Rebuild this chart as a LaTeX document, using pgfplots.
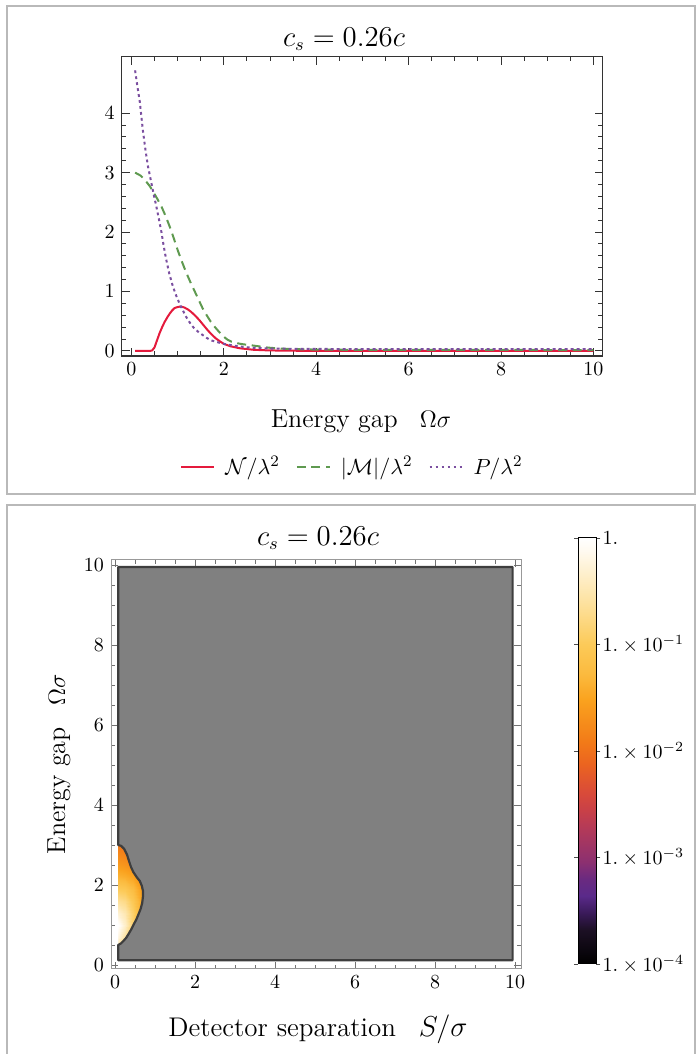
\documentclass[border=0pt]{standalone}
\usepackage{pgfplots}
\usepackage{pgfplotstable}
\pgfplotsset{compat=1.18}
\definecolor{cN}{RGB}{228,26,60}
\definecolor{cM}{RGB}{95,154,80}
\definecolor{cP}{RGB}{123,79,160}
\definecolor{regiongray}{RGB}{128,128,128}
\definecolor{edgegray}{RGB}{62,62,62}
\definecolor{framegray}{RGB}{185,185,185}

\pgfplotstableread{
S W c
0.08 0.4 -0.5
0.25 0.4 -1.2
0.45 0.4 -1.7
0.65 0.4 -2.0
0.80 0.4 -2.2
0.08 0.7 -0.2
0.25 0.7 -0.6
0.45 0.7 -1.2
0.65 0.7 -1.7
0.80 0.7 -2.0
0.08 1.0 0
0.25 1.0 -0.35
0.45 1.0 -0.9
0.65 1.0 -1.5
0.80 1.0 -1.9
0.08 1.3 -0.3
0.25 1.3 -0.5
0.45 1.3 -0.9
0.65 1.3 -1.4
0.80 1.3 -1.8
0.08 1.6 -0.65
0.25 1.6 -0.75
0.45 1.6 -1.05
0.65 1.6 -1.45
0.80 1.6 -1.75
0.08 1.9 -1.0
0.25 1.9 -1.05
0.45 1.9 -1.25
0.65 1.9 -1.55
0.80 1.9 -1.8
0.08 2.2 -1.35
0.25 2.2 -1.4
0.45 2.2 -1.5
0.65 2.2 -1.7
0.80 2.2 -1.9
0.08 2.5 -1.6
0.25 2.5 -1.65
0.45 2.5 -1.75
0.65 2.5 -1.85
0.80 2.5 -2.0
0.08 2.8 -1.8
0.25 2.8 -1.85
0.45 2.8 -1.9
0.65 2.8 -2.0
0.80 2.8 -2.1
0.08 3.1 -2.0
0.25 3.1 -2.0
0.45 3.1 -2.05
0.65 3.1 -2.1
0.80 3.1 -2.2
}\blobdata

\pgfplotsset{
  colormap={sunset}{
    rgb255(0cm)=(0,0,0)
    rgb255(8cm)=(28,16,36)
    rgb255(12cm)=(58,26,90)
    rgb255(16cm)=(90,42,138)
    rgb255(20cm)=(106,42,128)
    rgb255(24cm)=(140,48,112)
    rgb255(32cm)=(180,58,88)
    rgb255(36cm)=(200,64,72)
    rgb255(40cm)=(216,74,58)
    rgb255(47cm)=(235,100,32)
    rgb255(52cm)=(242,122,24)
    rgb255(62cm)=(250,162,30)
    rgb255(68cm)=(251,186,62)
    rgb255(75cm)=(252,202,88)
    rgb255(85cm)=(253,226,160)
    rgb255(97cm)=(255,250,240)
    rgb255(100cm)=(255,255,255)
  }
}

\begin{document}
\begin{tikzpicture}
\draw[framegray, line width=0.75pt] (3.5pt,280pt) rectangle (347.5pt,524pt);
\draw[framegray, line width=0.75pt] (3.5pt,-5pt) rectangle (347.5pt,274.5pt);

% ---------------- top panel ----------------
\begin{axis}[
  scale only axis,
  at={(60.85pt,349pt)}, anchor=south west,
  width=240.5pt, height=149.65pt,
  xmin=-0.21, xmax=10.2, ymin=-0.084, ymax=4.95,
  xtick={0,2,...,10}, ytick={0,1,2,3,4},
  minor x tick num=3, minor y tick num=4,
  tick align=inside,
  major tick length=4pt, minor tick length=2.3pt,
  axis line style={black!80, line width=0.6pt},
  every tick/.style={black!80, line width=0.5pt},
  legend style={draw=none, fill=none, at={(0.482,-0.371)}, anchor=center,
    font=\fontsize{11}{13.5}\selectfont,
    /tikz/every odd column/.append style={column sep=3pt},
    /tikz/every even column/.append style={column sep=6pt}},
  legend columns=3,
  legend image code/.code={\draw[#1] (0pt,0pt) -- (16.5pt,0pt);},
]
\addplot[cN, line width=1pt, mark=none] coordinates {
(0.08,0) (0.2,0) (0.3,0) (0.4,0) (0.45,0.01) (0.5,0.06) (0.55,0.17) (0.61,0.30)
(0.67,0.41) (0.72,0.49) (0.78,0.57) (0.83,0.63) (0.88,0.68) (0.93,0.72) (0.98,0.735)
(1.04,0.745) (1.1,0.742) (1.15,0.73) (1.22,0.70) (1.29,0.66) (1.38,0.595) (1.47,0.52)
(1.56,0.435) (1.65,0.35) (1.74,0.275) (1.83,0.21) (1.92,0.16) (2.0,0.12) (2.14,0.08)
(2.35,0.045) (2.65,0.02) (2.97,0.01) (3.4,0.005) (4,0.002) (5,0) (10,0)};
\addlegendentry{$\mathcal{N}/\lambda^2$}
\addplot[cM, line width=1pt, mark=none, dash pattern=on 4.5pt off 2.8pt] coordinates {
(0.08,3.0) (0.2,2.95) (0.3,2.87) (0.4,2.77) (0.47,2.68) (0.56,2.56) (0.65,2.43)
(0.74,2.27) (0.83,2.09) (0.92,1.89) (1.0,1.70) (1.09,1.51) (1.18,1.33) (1.27,1.17)
(1.36,1.02) (1.45,0.87) (1.54,0.72) (1.63,0.60) (1.72,0.49) (1.81,0.40) (1.9,0.32)
(2.0,0.24) (2.08,0.19) (2.17,0.155) (2.26,0.135) (2.4,0.115) (2.65,0.09) (2.97,0.056)
(3.36,0.034) (4.1,0.022) (5,0.02) (7,0.018) (10,0.016)};
\addlegendentry{$|\mathcal{M}|/\lambda^2$}
\addplot[cP, line width=1pt, mark=none, dash pattern=on 1.4pt off 1.6pt] coordinates {
(0.08,4.72) (0.13,4.45) (0.18,4.2) (0.25,3.7) (0.31,3.35) (0.36,3.1) (0.4,2.95)
(0.47,2.68) (0.54,2.43) (0.6,2.2) (0.65,2.0) (0.7,1.76) (0.75,1.55) (0.82,1.3)
(0.9,1.08) (0.97,0.93) (1.04,0.80) (1.11,0.69) (1.18,0.58) (1.27,0.47) (1.36,0.38)
(1.45,0.32) (1.54,0.27) (1.63,0.22) (1.72,0.18) (1.81,0.16) (1.9,0.14) (2.0,0.12)
(2.14,0.10) (2.35,0.075) (2.65,0.052) (2.97,0.042) (3.7,0.035) (5,0.032) (7,0.03) (10,0.03)};
\addlegendentry{$P/\lambda^2$}
\end{axis}

\node[anchor=base, font=\fontsize{13.5}{16}\selectfont] at (172pt,503.75pt) {$c_s = 0.26c$};
\node[anchor=base, font=\fontsize{13}{16}\selectfont] at (180.5pt,313pt) {Energy gap\hspace{0.85em}$\Omega\sigma$};

% ---------------- bottom panel ----------------
\begin{axis}[
  scale only axis,
  at={(55.5pt,42.5pt)}, anchor=south west,
  width=205pt, height=204.5pt,
  xmin=-0.1, xmax=10.15, ymin=-0.1, ymax=10.125,
  xtick={0,2,...,10}, ytick={0,2,...,10},
  minor x tick num=3, minor y tick num=3,
  tick align=inside,
  major tick length=3.5pt, minor tick length=2pt,
  axis line style={black!40, line width=0.5pt},
  every tick/.style={black!55, line width=0.45pt},
  colormap name=sunset,
  point meta min=-4, point meta max=0,
  colorbar,
  colorbar style={
    at={(parent axis.north east)}, anchor=north west,
    xshift=20pt, yshift=11pt,
    scale only axis,
    width=9.2pt, height=213pt,
    ytick={-4,-3,-2,-1,0},
    yticklabels={$1.\times10^{-4}$,$1.\times10^{-3}$,$1.\times10^{-2}$,$1.\times10^{-1}$,$1.$},
    yticklabel style={font=\normalsize, xshift=-2.5pt},
    tick align=outside, major tick length=2pt,
    axis line style={black, line width=0.5pt},
    every tick/.style={black!70},
  },
]
\addplot[surf, shader=interp, mesh/cols=5, point meta=\thisrow{c}, forget plot]
  table[x=S, y=W] {\blobdata};
\addplot[fill=regiongray, draw=edgegray, line width=1.1pt, line join=round, mark=none, forget plot]
  coordinates {
(0.08,9.95) (9.94,9.95) (9.94,0.12) (0.08,0.12) (0.08,0.5) (0.15,0.54) (0.21,0.6)
(0.28,0.68) (0.33,0.76) (0.4,0.88) (0.46,1.0) (0.53,1.13) (0.58,1.25) (0.64,1.4)
(0.68,1.55) (0.7,1.72) (0.7,1.85) (0.67,1.98) (0.62,2.1) (0.54,2.2) (0.46,2.32)
(0.4,2.45) (0.35,2.6) (0.3,2.76) (0.23,2.9) (0.15,2.98) (0.08,3.0)} -- cycle;
\end{axis}

\node[anchor=base, font=\fontsize{13.5}{16}\selectfont] at (159pt,254.25pt) {$c_s = 0.26c$};
\node[anchor=base, rotate=90, font=\fontsize{13}{16}\selectfont] at (32.5pt,145pt) {Energy gap\hspace{0.85em}$\Omega\sigma$};
\node[anchor=base, font=\fontsize{13.5}{16}\selectfont] at (159pt,9pt) {Detector separation\hspace{0.85em}$S/\sigma$};

\pgfresetboundingbox
\path[use as bounding box] (0pt,0pt) rectangle (348pt,527pt);
\end{tikzpicture}
\end{document}
